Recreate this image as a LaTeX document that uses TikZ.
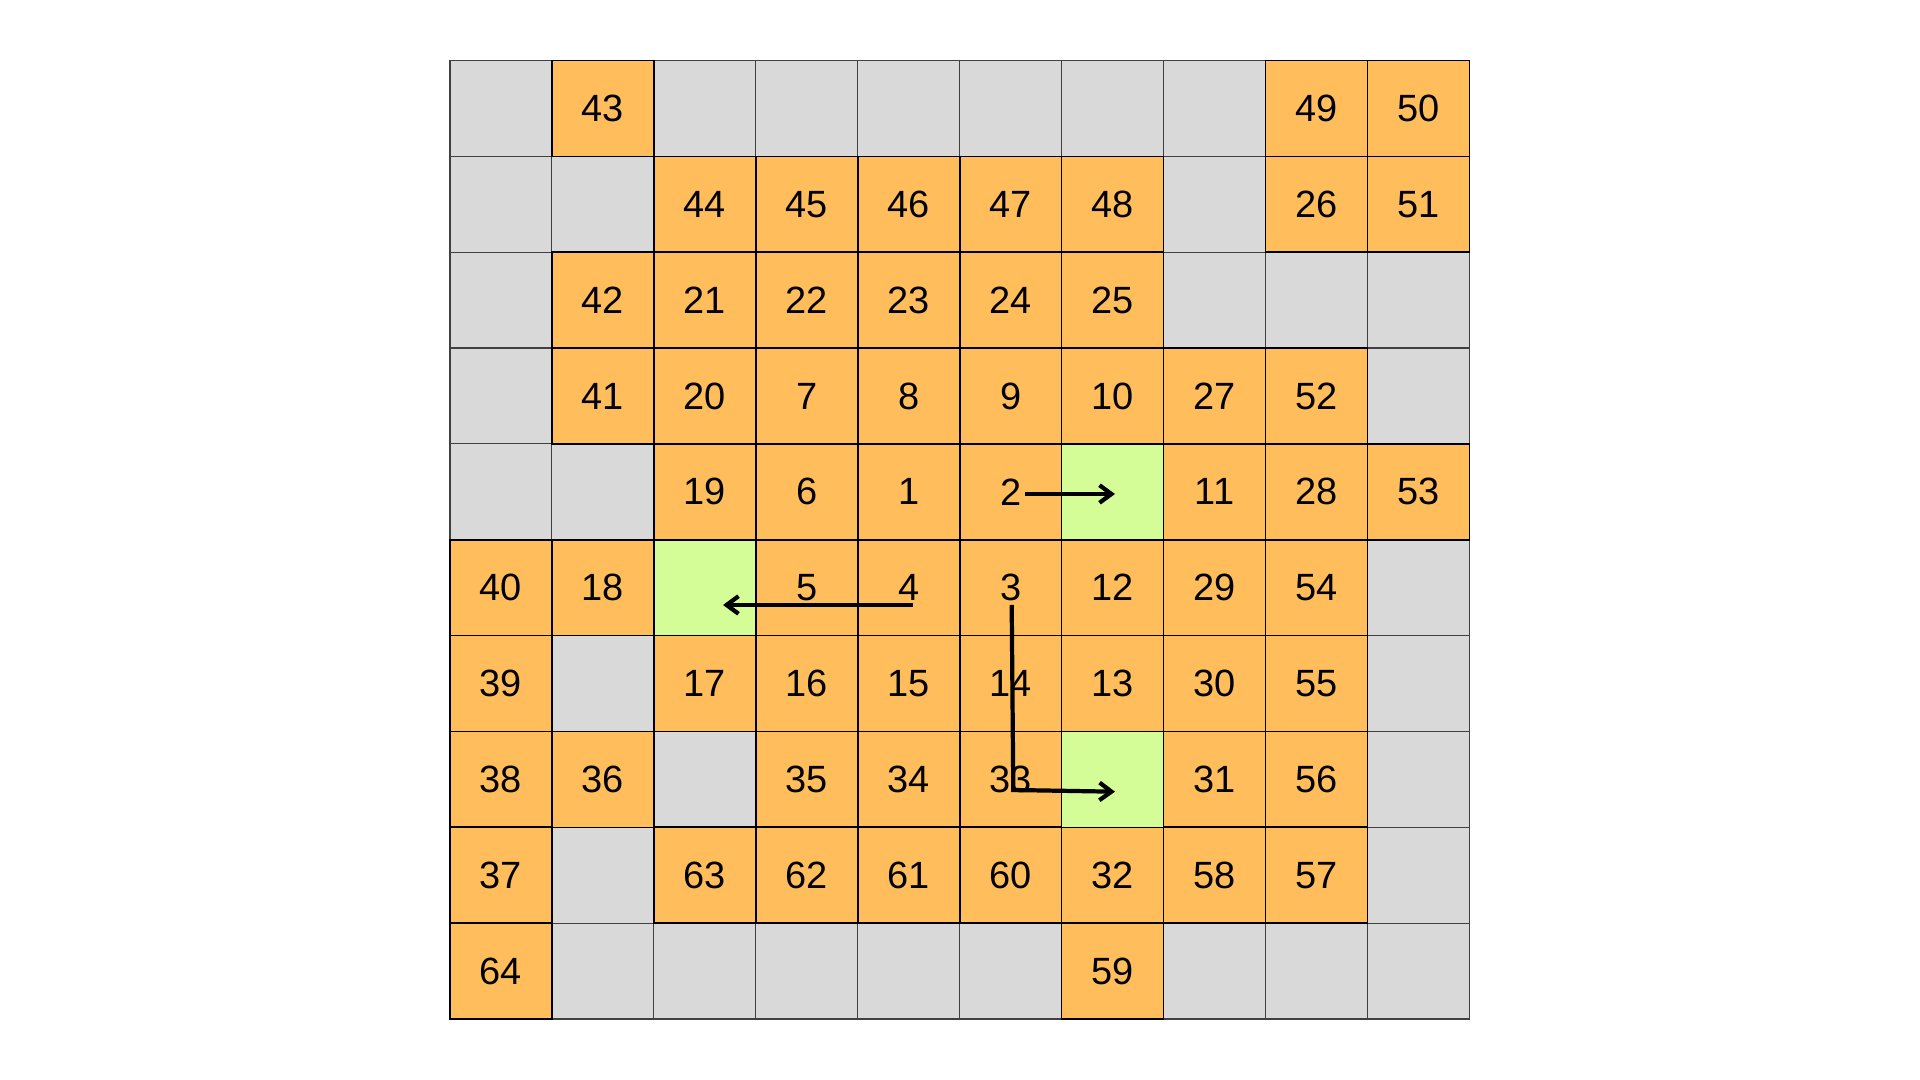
\documentclass[tikz,border=0pt]{standalone}
\usepackage{fontspec}
\setmainfont{Liberation Sans}
\usetikzlibrary{arrows.meta}
\definecolor{cgray}{HTML}{D9D9D9}
\definecolor{corange}{HTML}{FFBE5B}
\definecolor{cgreen}{HTML}{D4FC97}
\begin{document}
\begin{tikzpicture}[x=0.01cm,y=-0.01cm,
  cellbase/.style={rectangle, minimum width=1.0195cm, minimum height=0.9585cm, inner sep=0pt, outer sep=0pt, font=\fontsize{10.8}{12}\selectfont},
  graycell/.style={cellbase, fill=cgray, draw=black!75, line width=0.3pt},
  orangecell/.style={cellbase, fill=corange, draw=black, line width=0.45pt},
  greencell/.style={cellbase, fill=cgreen, draw=black, line width=0.45pt},
  arr/.style={-{Straight Barb[length=3.4pt,width=5pt]}, line width=1.2pt, black}]
\useasboundingbox (0,0) rectangle (1920,1080);
\foreach \c/\r in {0/0,2/0,3/0,4/0,5/0,6/0,7/0,
                   0/1,1/1,7/1,
                   0/2,7/2,8/2,9/2,
                   0/3,9/3,
                   0/4,1/4,
                   9/5,
                   1/6,9/6,
                   2/7,9/7,
                   1/8,9/8,
                   1/9,2/9,3/9,4/9,5/9,7/9,8/9,9/9}
  \node[graycell] (cell-\c-\r) at ({450+(\c+0.5)*101.95},{60.5+(\r+0.5)*95.85}) {};
\foreach \c/\r/\n in {1/0/43,8/0/49,9/0/50,
  2/1/44,3/1/45,4/1/46,5/1/47,6/1/48,8/1/26,9/1/51,
  1/2/42,2/2/21,3/2/22,4/2/23,5/2/24,6/2/25,
  1/3/41,2/3/20,3/3/7,4/3/8,5/3/9,6/3/10,7/3/27,8/3/52,
  2/4/19,3/4/6,4/4/1,5/4/2,7/4/11,8/4/28,9/4/53,
  0/5/40,1/5/18,3/5/5,4/5/4,5/5/3,6/5/12,7/5/29,8/5/54,
  0/6/39,2/6/17,3/6/16,4/6/15,5/6/14,6/6/13,7/6/30,8/6/55,
  0/7/38,1/7/36,3/7/35,4/7/34,5/7/33,7/7/31,8/7/56,
  0/8/37,2/8/63,3/8/62,4/8/61,5/8/60,6/8/32,7/8/58,8/8/57,
  0/9/64,6/9/59}
  \node[orangecell] (cell-\c-\r) at ({450+(\c+0.5)*101.95},{60.5+(\r+0.5)*95.85}) {\raisebox{-0.3pt}{\n}};
\foreach \c/\r in {6/4,2/5,6/7}
  \node[greencell] (cell-\c-\r) at ({450+(\c+0.5)*101.95},{60.5+(\r+0.5)*95.85}) {};
% arrow endpoints
\coordinate (a1s) at (1025,494);
\coordinate (a1e) at (1115,494);
\coordinate (a2s) at (913,605);
\coordinate (a2e) at (723,605);
\coordinate (a3s) at (1011.7,605);
\coordinate (a3m) at (1013.3,790);
\coordinate (a3e) at (1115,791.7);
\draw[arr] (a1s) -- (a1e);
\draw[arr] (a2s) -- (a2e);
\draw[arr] (a3s) -- (a3m) -- (a3e);
\end{tikzpicture}
\end{document}
